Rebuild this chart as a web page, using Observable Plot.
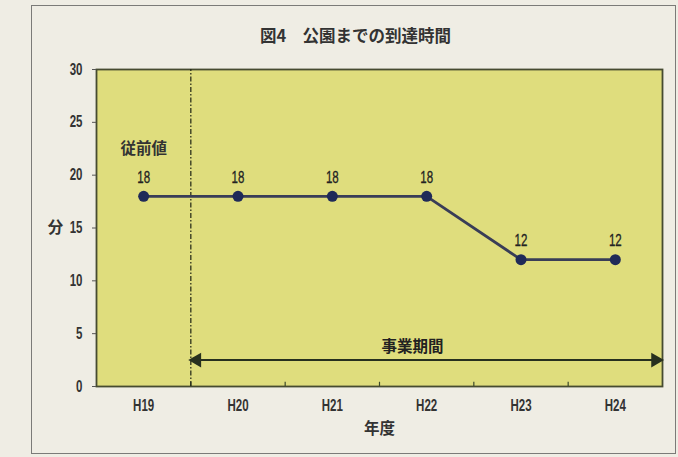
<!DOCTYPE html>
<html>
<head>
<meta charset="utf-8">
<script src="https://cdn.jsdelivr.net/npm/d3@7"></script>
<script src="https://cdn.jsdelivr.net/npm/@observablehq/plot@0.6"></script>
<style>
  html, body { margin: 0; padding: 0; background: #efede4; }
  #wrap { position: relative; width: 678px; height: 457px; }
  #box {
    position: absolute; left: 31px; top: 5px; width: 643px; height: 447px;
    border: 1.5px solid #7b7b78; pointer-events: none;
  }
</style>
</head>
<body>
<div id="wrap"><div id="box"></div></div>
<script>
// Fiscal years and minutes needed to reach a park
const years = ["H19", "H20", "H21", "H22", "H23", "H24"];
const minutes = [18, 18, 18, 18, 12, 12];
const yTicks = [0, 5, 10, 15, 20, 25, 30];

const title = "図4　公園までの到達時間";
const xTitle = "年度";
const yTitle = "分";
const baselineLabel = "従前値";
const baselineLabelValue = 22.5;
const periodLabel = "事業期間";
const periodLabelPos = 3.35;
const periodStart = "H20";
const periodEnd = "H24";
const periodArrowValue = 2.5;

const rows = years.map((year, i) => ({x: i + 0.5, year, value: minutes[i]}));
const startX = years.indexOf(periodStart);
const endX = years.indexOf(periodEnd) + 1;

const font = "'Liberation Sans', 'Noto Sans CJK JP', sans-serif";
const cjk = "'Noto Sans CJK JP', sans-serif";
const ink = "#2b2b2b";
const arrowInk = "#27301f";

const chart = Plot.plot({
  width: 678,
  height: 457,
  marginLeft: 96,
  marginRight: 16,
  marginTop: 69,
  marginBottom: 71,
  style: {background: "transparent", fontFamily: font, color: ink},
  x: {domain: [0, years.length], label: null},
  y: {domain: [0, 30], label: null},
  marks: [
    Plot.frame({fill: "#dfdd7d", stroke: "#464b30", strokeWidth: 1.8}),
    // small ticks at the year boundaries
    Plot.ruleX(d3.range(1, years.length), {y1: 0, y2: 0.4, stroke: "#3d4a2a", strokeWidth: 1.2}),
    // start of the project period
    Plot.ruleX([startX], {y1: 0, y2: 30, stroke: "#1e2414", strokeWidth: 1.2, strokeDasharray: "5,2,1.5,2"}),
    Plot.axisY(yTicks, {
      tickSize: 4, tickPadding: 10, fontSize: 16, fontWeight: "bold", stroke: "#555", color: "#333", label: null
    }),
    Plot.axisX(rows.map((d) => d.x), {
      tickSize: 0, tickPadding: 13, fontSize: 16, fontWeight: "bold", color: "#333",
      tickFormat: (d) => years[Math.floor(d)], label: null
    }),
    Plot.text([xTitle], {frameAnchor: "bottom", dy: 47, fontSize: 15.5, fontWeight: "bold", fontFamily: cjk, fill: "#333"}),
    Plot.text([yTitle], {frameAnchor: "left", y: [15], dx: -41, textAnchor: "middle", fontSize: 15.5, fontWeight: "bold", fontFamily: cjk, fill: "#333"}),
    Plot.text([title], {frameAnchor: "top", dx: -24, dy: -39, fontSize: 16.5, fontWeight: "bold", fontFamily: cjk, fill: "#333"}),
    // project period arrow
    Plot.ruleY([periodArrowValue], {x1: startX, x2: endX, insetLeft: 4, insetRight: 8, stroke: arrowInk, strokeWidth: 2}),
    Plot.dot([startX], {x: (d) => d, y: [periodArrowValue], symbol: "triangle", rotate: -90, r: 5.5, dx: 6, fill: arrowInk, stroke: "none"}),
    Plot.dot([endX], {x: (d) => d, y: [periodArrowValue], symbol: "triangle", rotate: 90, r: 5.5, dx: -7, fill: arrowInk, stroke: "none"}),
    Plot.text([periodLabel], {x: [periodLabelPos], y: [periodArrowValue], dy: -13, fontSize: 15.5, fontWeight: "bold", fontFamily: cjk, fill: "#222"}),
    Plot.text([baselineLabel], {x: [rows[0].x], y: [baselineLabelValue], fontSize: 15.5, fontWeight: "bold", fontFamily: cjk, fill: "#333"}),
    // the series
    Plot.line(rows, {x: "x", y: "value", stroke: "#393d57", strokeWidth: 2.8}),
    Plot.dot(rows, {x: "x", y: "value", r: 5.5, fill: "#1f2a58", stroke: "none"}),
    Plot.text(rows, {
      x: "x", y: "value", text: (d) => String(d.value), dy: -18.5, fontSize: 16,
      fill: "#222", stroke: "#222", strokeWidth: 0.3
    })
  ]
});

// Condense the Latin labels (years and numbers) horizontally around their anchor
chart.querySelectorAll("text").forEach((t) => {
  const s = t.textContent.trim();
  if (!/^(H\d+|\d+)$/.test(s)) return;
  const sx = 0.72;
  const ax = parseFloat(t.getAttribute("x")) || 0;
  const tr = t.getAttribute("transform") || "";
  t.setAttribute("transform", `${tr} translate(${ax},0) scale(${sx},1) translate(${-ax},0)`);
});

document.getElementById("wrap").prepend(chart);
chart.style.position = "absolute";
chart.style.left = "0";
chart.style.top = "0";
</script>
</body>
</html>
